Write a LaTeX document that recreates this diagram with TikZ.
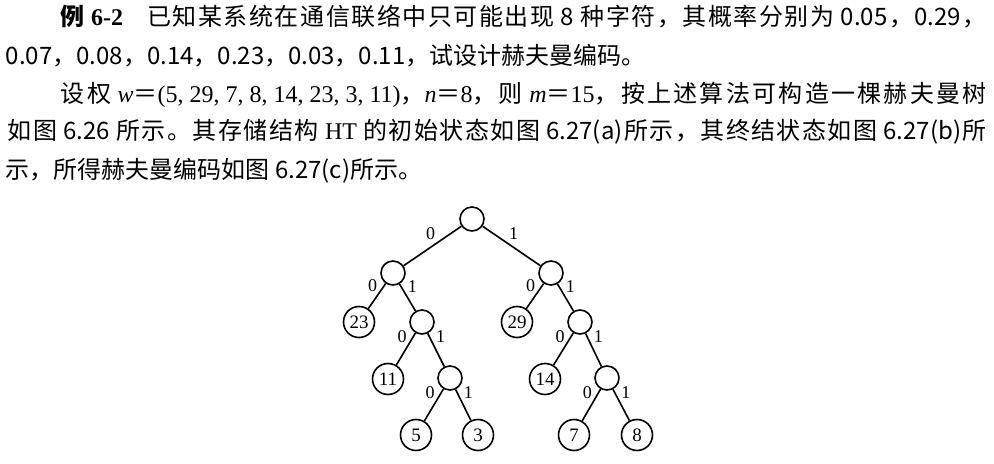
\documentclass[tikz,border=0pt]{standalone}
\usepackage{fontspec}
\setmainfont{Liberation Serif}
\newfontfamily\cjk{Noto Sans CJK SC}
% glue between CJK characters, so that full lines can be stretched
\newXeTeXintercharclass\hanzi
\newXeTeXintercharclass\hanpunct
\newcount\hancode
\hancode="4E00
\loop \XeTeXcharclass\hancode=\hanzi \advance\hancode by 1 \ifnum\hancode<"A000 \repeat
\XeTeXcharclass"FF0C=\hanpunct
\XeTeXcharclass"3002=\hanpunct
\XeTeXinterchartoks 0 \hanzi = {\hskip 0pt plus 1pt\relax}
\XeTeXinterchartoks \hanzi 0 = {\hskip 0pt plus 1pt\relax}
\XeTeXinterchartoks \hanzi \hanzi = {\hskip 0pt plus 1pt\relax}
\XeTeXinterchartoks \hanzi \hanpunct = {\hskip 0pt plus 1pt\relax}
\XeTeXinterchartoks \hanpunct \hanzi = {\hskip 0pt plus 1pt\relax}
\XeTeXinterchartoks \hanpunct 0 = {\hskip 0pt plus 1pt\relax}
\XeTeXinterchartoks 0 \hanpunct = {\hskip 0pt plus 1pt\relax}
\newcommand\fullline[2]{{\XeTeXinterchartokenstate=1 \spaceskip=3pt plus .2pt\relax \makebox[#1][s]{#2}}}
\newcommand\wsep{{\rmfamily,}\hskip 3pt\relax}

\begin{document}
\begin{tikzpicture}[x=0.5pt, y=-0.5pt, line width=0.8pt,
  every node/.style={inner sep=0pt},
  txt/.style={anchor=base west, font=\cjk\fontsize{12}{14}\selectfont},
  knot/.style={draw, circle, minimum size=12pt},
  leaf/.style={draw, circle, minimum size=15.5pt, font=\fontsize{9.5}{11}\selectfont},
  bit/.style={font=\fontsize{9}{11}\selectfont, inner sep=3pt}]
\useasboundingbox (0,0) rectangle (994,464);

% text of the example
\node[txt] (l1) at (60,26) {\fullline{463pt}{{\bfseries 例 \rmfamily 6-2}\hskip 12pt 已知某系统在通信联络中只可能出现 8 种字符，其概率分别为 0.05，0.29，}};
\node[txt] (l2) at (5,65) {0.07，0.08，0.14，0.23，0.03，0.11，试设计赫夫曼编码。};
\node[txt] (l3) at (60,103) {\fullline{463pt}{设权 {\rmfamily\itshape w}＝{\rmfamily (5\wsep 29\wsep 7\wsep 8\wsep 14\wsep 23\wsep 3\wsep 11)}，{\rmfamily\itshape n}＝{\rmfamily 8}，则 {\rmfamily\itshape m}＝{\rmfamily 15}，按上述算法可构造一棵赫夫曼树}};
\node[txt] (l4) at (7,140) {\fullline{489.5pt}{如图 6.26 所示。其存储结构 {\rmfamily HT} 的初始状态如图 6.27(a)所示，其终结状态如图 6.27(b)所}};
\node[txt] (l5) at (5,179) {示，所得赫夫曼编码如图 6.27(c)所示。};

% Huffman tree
\node[knot] (root) at (472,219) {};
\node[knot] (a) at (393,273) {};
\node[knot] (b) at (551,273) {};
\node[leaf] (w23) at (359,322) {23};
\node[knot] (c) at (422,322) {};
\node[leaf] (w29) at (517,322) {29};
\node[knot] (d) at (580,322) {};
\node[leaf] (w11) at (388,379) {11};
\node[knot] (e) at (450,378) {};
\node[leaf] (w14) at (545,379) {14};
\node[knot] (f) at (607,378) {};
\node[leaf] (w5) at (416,435) {5};
\node[leaf] (w3) at (478,435) {3};
\node[leaf] (w7) at (574,435) {7};
\node[leaf] (w8) at (637,435) {8};

\draw (root) -- node[bit, above, xshift=-1pt] {0} (a);
\draw (root) -- node[bit, above, xshift=1pt] {1} (b);
\draw (a) -- node[bit, pos=.1, left] {0} (w23);
\draw (a) -- node[bit, pos=.1, right] {1} (c);
\draw (b) -- node[bit, pos=.1, left] {0} (w29);
\draw (b) -- node[bit, pos=.1, right] {1} (d);
\draw (c) -- node[bit, pos=.1, left] {0} (w11);
\draw (c) -- node[bit, pos=.1, right] {1} (e);
\draw (d) -- node[bit, pos=.1, left] {0} (w14);
\draw (d) -- node[bit, pos=.1, right] {1} (f);
\draw (e) -- node[bit, pos=.1, left] {0} (w5);
\draw (e) -- node[bit, pos=.1, right] {1} (w3);
\draw (f) -- node[bit, pos=.1, left] {0} (w7);
\draw (f) -- node[bit, pos=.1, right] {1} (w8);
\end{tikzpicture}
\end{document}
